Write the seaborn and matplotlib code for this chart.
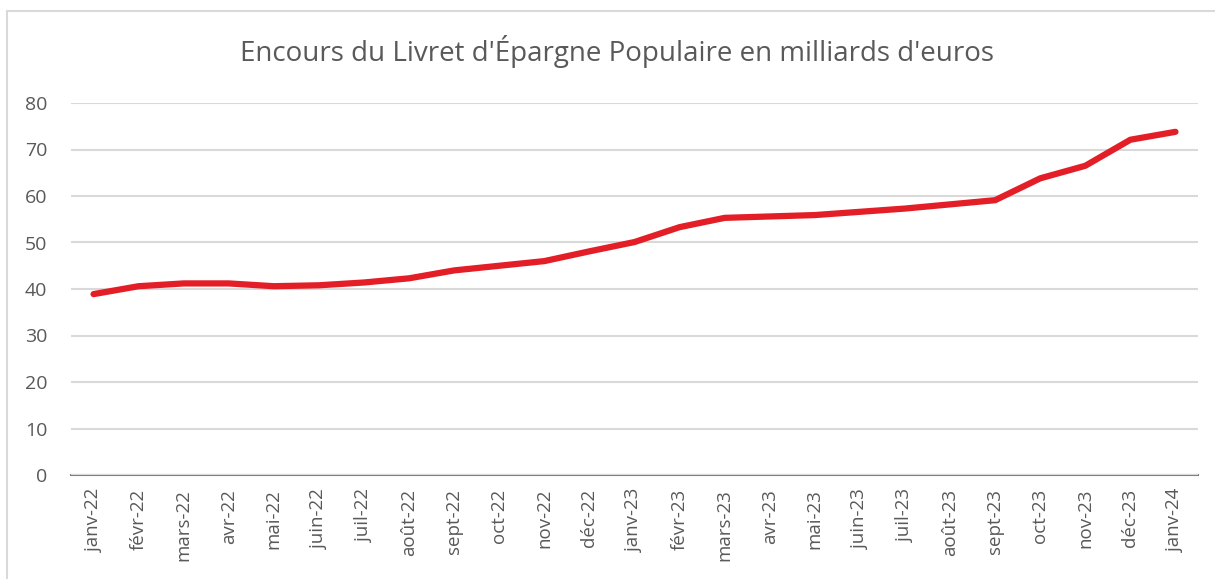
import numpy as np
import matplotlib
matplotlib.use("Agg")
import matplotlib.pyplot as plt
import seaborn as sns
import pandas as pd

# Data
months = ["janv-22", "févr-22", "mars-22", "avr-22", "mai-22", "juin-22", "juil-22",
          "août-22", "sept-22", "oct-22", "nov-22", "déc-22", "janv-23", "févr-23",
          "mars-23", "avr-23", "mai-23", "juin-23", "juil-23", "août-23", "sept-23",
          "oct-23", "nov-23", "déc-23", "janv-24"]
encours = [38.9, 40.6, 41.2, 41.2, 40.6, 40.8, 41.4, 42.3, 44.0, 45.0, 46.0, 48.1,
           50.1, 53.3, 55.3, 55.6, 55.9, 56.6, 57.3, 58.2, 59.1, 63.8, 66.5, 72.1, 73.8]
y_ticks = [0, 10, 20, 30, 40, 50, 60, 70, 80]
title = "Encours du Livret d'Épargne Populaire en milliards d'euros"

df = pd.DataFrame({"mois": months, "encours": encours})

sns.set_style("white")
plt.rcParams["font.family"] = ["Open Sans", "DejaVu Sans"]

grey = "#595959"
fig = plt.figure(figsize=(12.15, 5.79), dpi=100)
W, H = 1215, 579

# chart-area border
fig.patches.append(plt.Rectangle((7 / W, -0.05), 1.1, 1 - 11 / H + 0.05,
                                 transform=fig.transFigure, fill=False,
                                 edgecolor="#d9d9d9", linewidth=1.5))

ax = fig.add_axes([71 / W, 1 - 475 / H, (1198 - 71) / W, (475 - 103) / H])
sns.lineplot(data=df, x="mois", y="encours", ax=ax, color="#e41e26",
             linewidth=4.5, sort=False, solid_capstyle="round", solid_joinstyle="round")

ax.set_xlim(-0.5, len(months) - 0.5)
ax.set_ylim(0, 80)
ax.set_yticks(y_ticks)
ax.yaxis.grid(True, color="#d9d9d9", linewidth=1.5)
ax.set_axisbelow(True)
for s in ["top", "right", "left"]:
    ax.spines[s].set_visible(False)
ax.spines["bottom"].set_color("#7f7f7f")
ax.spines["bottom"].set_linewidth(1.5)
ax.spines["bottom"].set_zorder(0.5)

ax.set_xticks(range(len(months)))
ax.set_xticklabels(months, rotation=90, fontsize=13.5, color=grey)
ax.tick_params(axis="y", labelsize=14, labelcolor=grey, length=0, pad=17)
ax.tick_params(axis="x", length=0, pad=10)
ax.set_xlabel("")
ax.set_ylabel("")

fig.text(617 / W, 1 - 52 / H, title, ha="center", va="center", fontsize=20, color=grey)

fig.savefig("out.png", dpi=100)
